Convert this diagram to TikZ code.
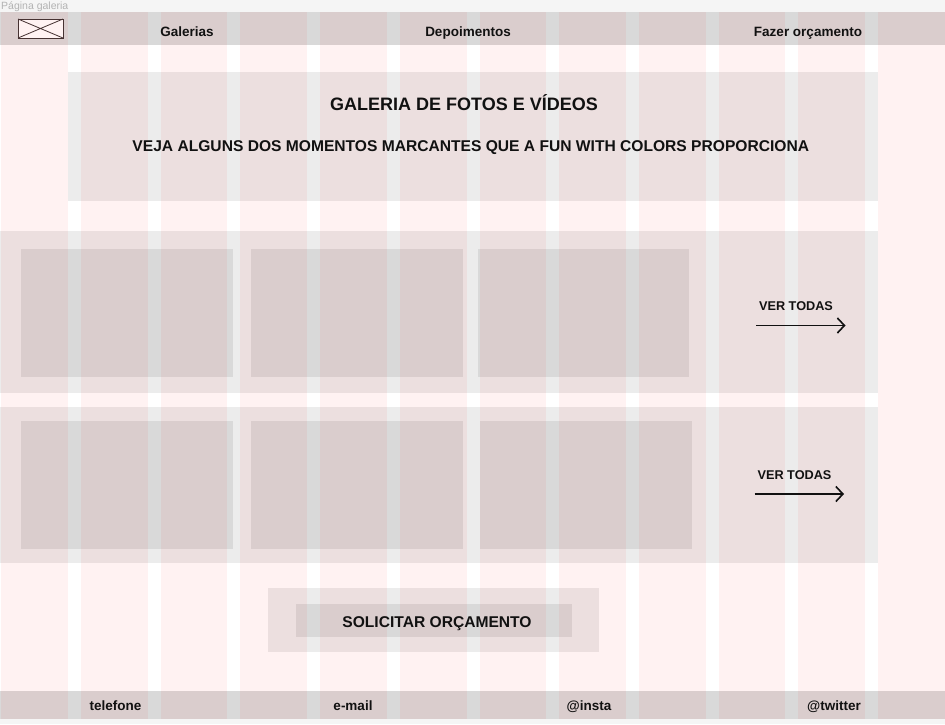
\documentclass[tikz,border=0pt]{standalone}
\usepackage{fontspec}
\setmainfont{Liberation Sans}
\usetikzlibrary{arrows.meta}

\definecolor{canvas}{HTML}{F5F5F5}
\definecolor{block}{HTML}{D9D9D9}
\definecolor{panel}{HTML}{ECECEC}
\definecolor{ink}{HTML}{111111}
\definecolor{caption}{HTML}{B3B3B3}
\definecolor{logoline}{HTML}{3D3535}

\begin{document}
\begin{tikzpicture}[x=1pt,y=-1pt,
    menuitem/.style={font=\bfseries\fontsize{13.5}{16}\selectfont, text=ink, inner sep=0pt, anchor=base},
    heading/.style={font=\bfseries\fontsize{18}{22}\selectfont, text=ink, inner sep=0pt, anchor=base},
    subheading/.style={font=\bfseries\fontsize{15.6}{19}\selectfont, text=ink, inner sep=0pt, anchor=base},
    seeall/.style={font=\bfseries\fontsize{12.7}{15}\selectfont, text=ink, inner sep=0pt, anchor=base},
    btntext/.style={font=\bfseries\fontsize{15.6}{19}\selectfont, text=ink, inner sep=0pt, anchor=base},
    seearrow/.style={draw=ink, line width=1.6pt, -{Straight Barb[length=7pt,width=15pt]}},
    gridcol/.style={fill=red, fill opacity=0.05},
  ]
    \useasboundingbox (0,0) rectangle (945,724);
    \fill[canvas] (0,0) rectangle (945,724);
    \node[font=\fontsize{10.5}{12}\selectfont, text=caption, inner sep=0pt, anchor=base west] (pagetitle) at (1,9) {Página galeria};

    % frame
    \fill[white] (0,12) rectangle (945,719);
    \fill[block] (0,12) rectangle (945,45);
    \fill[panel] (68,72) rectangle (878,201);
    \fill[panel] (0,231) rectangle (878,393);
    \fill[panel] (0,407) rectangle (878,563);
    \foreach \a/\b in {21/233, 251/463, 478/689}
        \fill[block] (\a,249) rectangle (\b,377);
    \foreach \a/\b in {21/233, 251/463, 480/692}
        \fill[block] (\a,421) rectangle (\b,549);
    \fill[panel] (268,588) rectangle (599,652);
    \fill[block] (296,604) rectangle (572,637);
    \fill[block] (0,691) rectangle (945,719);

    % logo
    \draw[logoline, line width=1pt, fill=white] (18,19) rectangle (63,38);
    \draw[logoline, line width=0.8pt] (18,19) -- (63,38) (18,38) -- (63,19);

    % layout grid
    \foreach \k in {0,...,11}
        \fill[gridcol] ({\k*79.7+1.3},12) rectangle ({\k*79.7+68},719);

    % header
    \node[menuitem] (galerias) at (187,36) {Galerias};
    \node[menuitem] (depoimentos) at (468,36) {Depoimentos};
    \node[menuitem] (orcamento) at (808,36) {Fazer orçamento};

    % hero
    \node[heading] (titulo) at (464,110.3) {GALERIA DE FOTOS E VÍDEOS};
    \node[subheading] (subtitulo) at (470.8,151) {VEJA ALGUNS DOS MOMENTOS MARCANTES QUE A FUN WITH COLORS PROPORCIONA};

    % galleries
    \node[seeall] (vertodas1) at (796,310.3) {VER TODAS};
    \coordinate (seta1a) at (756,325.5);
    \coordinate (seta1b) at (845.5,325.5);
    \draw[seearrow] (seta1a) -- (seta1b);

    \node[seeall] (vertodas2) at (794.5,479) {VER TODAS};
    \coordinate (seta2a) at (754.5,494);
    \coordinate (seta2b) at (844,494);
    \draw[seearrow] (seta2a) -- (seta2b);

    % button
    \node[btntext] (solicitar) at (437,627.3) {SOLICITAR ORÇAMENTO};

    % footer
    \node[menuitem] (telefone) at (115.5,710.7) {telefone};
    \node[menuitem] (email) at (353,710.7) {e-mail};
    \node[menuitem] (insta) at (589,710.7) {@insta};
    \node[menuitem] (twitter) at (834,710.7) {@twitter};
\end{tikzpicture}
\end{document}
